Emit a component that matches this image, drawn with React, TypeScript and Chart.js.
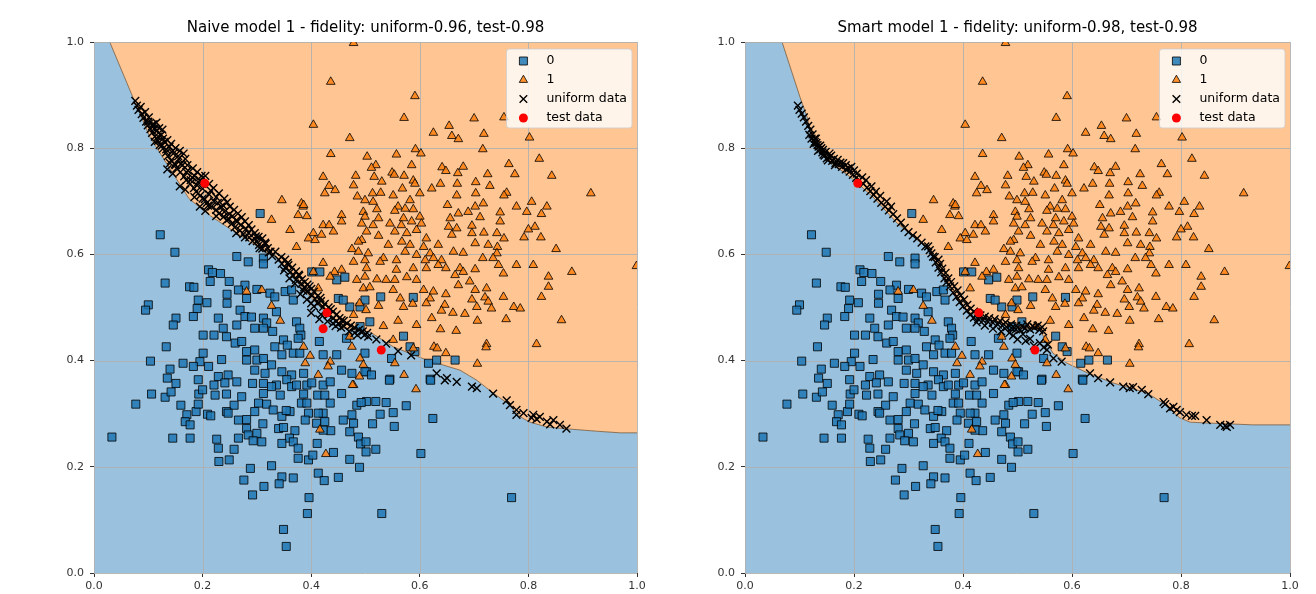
import React, { useEffect, useRef } from 'react';
import { Chart, registerables } from 'chart.js';

Chart.register(...registerables);

// ---------------- data ----------------
const tickValues = [0, 0.2, 0.4, 0.6, 0.8, 1.0];
const legendLabels = ['0', '1', 'uniform data', 'test data'];
const titleLeft = 'Naive model 1 - fidelity: uniform-0.96, test-0.98';
const titleRight = 'Smart model 1 - fidelity: uniform-0.98, test-0.98';

// class 0 samples (blue squares)
const class0Points: number[][] = [
  [0.306,0.677],[0.122,0.637],[0.149,0.604],[0.263,0.596],[0.284,0.586],[0.312,0.593],[0.312,0.582],[0.211,0.571],
  [0.218,0.566],[0.233,0.564],[0.131,0.546],[0.176,0.539],[0.184,0.538],[0.214,0.549],[0.249,0.549],[0.278,0.542],
  [0.300,0.534],[0.266,0.533],[0.245,0.525],[0.281,0.517],[0.192,0.514],[0.208,0.509],[0.245,0.508],[0.324,0.527],
  [0.333,0.520],[0.352,0.530],[0.100,0.505],[0.095,0.495],[0.190,0.498],[0.269,0.495],[0.336,0.492],[0.367,0.514],
  [0.364,0.533],[0.401,0.567],[0.416,0.567],[0.447,0.552],[0.462,0.557],[0.450,0.517],[0.471,0.501],[0.151,0.480],
  [0.146,0.467],[0.183,0.483],[0.229,0.480],[0.278,0.483],[0.290,0.482],[0.312,0.480],[0.263,0.467],[0.318,0.471],
  [0.238,0.461],[0.296,0.461],[0.201,0.448],[0.221,0.448],[0.244,0.445],[0.260,0.433],[0.272,0.436],[0.312,0.461],
  [0.329,0.455],[0.349,0.439],[0.356,0.429],[0.333,0.426],[0.373,0.473],[0.379,0.461],[0.381,0.448],[0.415,0.436],
  [0.133,0.426],[0.201,0.414],[0.195,0.398],[0.235,0.402],[0.281,0.417],[0.296,0.420],[0.281,0.401],[0.300,0.401],
  [0.312,0.404],[0.346,0.411],[0.367,0.414],[0.379,0.414],[0.422,0.411],[0.447,0.411],[0.104,0.399],[0.164,0.395],
  [0.183,0.389],[0.211,0.389],[0.140,0.384],[0.135,0.367],[0.151,0.357],[0.192,0.364],[0.229,0.370],[0.247,0.373],
  [0.263,0.360],[0.296,0.382],[0.315,0.376],[0.327,0.392],[0.346,0.379],[0.364,0.373],[0.386,0.376],[0.355,0.364],
  [0.456,0.382],[0.475,0.376],[0.502,0.379],[0.336,0.354],[0.312,0.357],[0.221,0.354],[0.376,0.442],[0.459,0.514],
  [0.490,0.501],[0.465,0.442],
  [0.528,0.520],[0.588,0.519],[0.499,0.514],[0.570,0.446],[0.582,0.426],[0.591,0.417],[0.616,0.395],[0.631,0.401],
  [0.665,0.401],[0.548,0.404],[0.545,0.365],[0.619,0.365],[0.499,0.379],[0.511,0.373],[0.508,0.473],[0.490,0.464],
  [0.499,0.414],
  [0.106,0.337],[0.077,0.318],[0.131,0.331],[0.142,0.341],[0.160,0.316],[0.171,0.298],[0.168,0.285],[0.177,0.279],
  [0.188,0.304],[0.192,0.318],[0.193,0.337],[0.200,0.345],[0.209,0.299],[0.215,0.296],[0.223,0.335],[0.244,0.337],
  [0.241,0.358],[0.272,0.332],[0.258,0.316],[0.244,0.304],[0.247,0.301],[0.266,0.288],[0.281,0.289],[0.281,0.272],
  [0.296,0.304],[0.303,0.320],[0.292,0.357],[0.312,0.338],[0.327,0.351],[0.318,0.318],[0.330,0.307],[0.343,0.335],
  [0.346,0.295],[0.340,0.272],[0.349,0.274],[0.311,0.281],[0.284,0.260],[0.300,0.263],[0.266,0.254],[0.293,0.249],
  [0.309,0.247],[0.226,0.252],[0.229,0.235],[0.258,0.233],[0.249,0.213],[0.230,0.210],[0.177,0.254],[0.145,0.254],
  [0.033,0.256],[0.361,0.304],[0.370,0.268],[0.354,0.306],[0.364,0.351],[0.373,0.354],[0.382,0.320],[0.392,0.354],
  [0.395,0.301],[0.389,0.288],[0.360,0.254],[0.367,0.247],[0.346,0.244],[0.376,0.235],[0.376,0.216],[0.395,0.213],
  [0.403,0.222],[0.411,0.244],[0.327,0.202],[0.288,0.197],[0.276,0.175],[0.346,0.181],[0.367,0.179],[0.341,0.168],
  [0.313,0.163],[0.292,0.147],[0.396,0.142],[0.393,0.112],[0.349,0.082],[0.354,0.050],[0.413,0.188],[0.424,0.174],
  [0.450,0.180],[0.471,0.214],[0.489,0.199],[0.441,0.227],[0.410,0.282],[0.425,0.285],[0.436,0.268],[0.422,0.269],
  [0.459,0.288],[0.478,0.282],[0.471,0.266],[0.487,0.256],[0.491,0.243],[0.501,0.228],[0.475,0.298],[0.484,0.316],
  [0.502,0.323],[0.435,0.320],[0.422,0.301],[0.413,0.301],[0.412,0.335],[0.425,0.335],[0.392,0.320],[0.386,0.337],
  [0.456,0.338],[0.422,0.354],[0.435,0.360],[0.401,0.358],
  [0.492,0.321],[0.519,0.323],[0.538,0.321],[0.575,0.315],[0.527,0.299],[0.551,0.302],[0.513,0.281],[0.553,0.276],
  [0.624,0.291],[0.501,0.247],[0.519,0.233],[0.602,0.225],[0.769,0.142],[0.530,0.112],[0.544,0.363],[0.620,0.363],
];

// class 1 samples (orange triangles)
const class1Points: number[][] = [
  [0.478,0.998],[0.436,0.925],[0.404,0.844],[0.471,0.819],[0.436,0.789],[0.422,0.746],[0.482,0.748],[0.433,0.729],
  [0.444,0.721],[0.478,0.730],[0.425,0.715],[0.485,0.709],[0.346,0.702],[0.382,0.696],[0.385,0.690],
  [0.591,0.898],[0.571,0.857],[0.654,0.842],[0.625,0.829],[0.700,0.856],[0.755,0.858],[0.718,0.827],[0.659,0.823],
  [0.671,0.817],[0.802,0.820],[0.716,0.798],[0.592,0.798],[0.602,0.790],[0.557,0.788],[0.503,0.784],[0.820,0.780],
  [0.764,0.770],[0.585,0.768],[0.519,0.768],[0.511,0.763],[0.641,0.764],[0.680,0.765],[0.648,0.757],[0.549,0.754],
  [0.571,0.748],[0.670,0.753],[0.725,0.751],[0.775,0.751],[0.843,0.748],[0.516,0.746],[0.553,0.750],[0.588,0.739],
  [0.530,0.737],[0.638,0.733],[0.703,0.736],[0.669,0.733],[0.729,0.729],[0.591,0.733],[0.622,0.724],[0.568,0.724],
  [0.915,0.715],[0.760,0.716],[0.755,0.711],[0.703,0.715],[0.600,0.715],[0.513,0.715],[0.528,0.716],[0.551,0.711],
  [0.668,0.711],[0.499,0.702],[0.560,0.690],
  [0.514,0.699],[0.582,0.702],[0.651,0.693],[0.702,0.690],[0.717,0.696],[0.778,0.690],[0.806,0.699],[0.834,0.690],
  [0.496,0.680],[0.521,0.685],[0.554,0.682],[0.573,0.686],[0.588,0.685],[0.671,0.677],[0.689,0.680],[0.748,0.679],
  [0.797,0.680],[0.824,0.676],[0.499,0.671],[0.524,0.668],[0.570,0.668],[0.600,0.671],[0.656,0.668],[0.711,0.670],
  [0.748,0.662],[0.493,0.658],[0.514,0.655],[0.545,0.658],[0.566,0.655],[0.585,0.662],[0.603,0.658],[0.653,0.652],
  [0.668,0.649],[0.696,0.654],[0.812,0.652],[0.800,0.647],[0.502,0.643],[0.524,0.635],[0.554,0.643],[0.576,0.640],
  [0.594,0.646],[0.659,0.637],[0.696,0.640],[0.718,0.641],[0.742,0.640],[0.755,0.630],[0.792,0.632],[0.823,0.632],
  [0.612,0.630],[0.493,0.627],[0.542,0.618],[0.567,0.624],[0.582,0.618],[0.634,0.618],[0.680,0.603],[0.702,0.621],
  [0.726,0.618],[0.743,0.614],[0.851,0.610],[0.505,0.602],[0.607,0.614],[0.573,0.605],[0.594,0.599],[0.619,0.602],
  [0.662,0.605],[0.742,0.602],[0.533,0.593],[0.557,0.589],[0.610,0.589],[0.625,0.593],[0.640,0.589],[0.716,0.593],
  [0.735,0.593],[0.502,0.574],[0.527,0.586],[0.557,0.571],[0.588,0.574],[0.612,0.574],[0.634,0.580],[0.648,0.574],
  [0.674,0.574],[0.702,0.572],[0.745,0.580],[0.778,0.580],[0.809,0.580],[0.880,0.567],[0.999,0.578],[0.499,0.558],
  [0.521,0.553],[0.538,0.552],[0.554,0.552],[0.576,0.557],[0.594,0.552],[0.665,0.561],[0.680,0.567],[0.692,0.549],
  [0.754,0.564],[0.837,0.558],[0.671,0.542],[0.837,0.539],[0.496,0.536],[0.508,0.538],[0.551,0.533],[0.607,0.533],
  [0.625,0.530],[0.648,0.525],[0.702,0.533],[0.723,0.536],[0.564,0.517],[0.619,0.517],[0.696,0.515],[0.720,0.519],
  [0.726,0.511],[0.754,0.520],[0.824,0.520],[0.524,0.503],[0.570,0.501],[0.587,0.507],[0.612,0.508],[0.646,0.505],
  [0.705,0.501],[0.732,0.498],[0.773,0.501],[0.785,0.498],[0.501,0.495],[0.640,0.494],[0.661,0.490],[0.683,0.488],
  [0.622,0.480],[0.560,0.475],[0.594,0.467],[0.706,0.475],[0.759,0.478],[0.861,0.476],[0.533,0.465],[0.638,0.459],
  [0.667,0.456],[0.551,0.439],[0.626,0.426],[0.632,0.423],[0.723,0.431],[0.722,0.425],[0.815,0.431],[0.648,0.414],
  [0.588,0.423],[0.706,0.394],[0.571,0.373],[0.554,0.395],
  [0.386,0.693],[0.376,0.674],[0.392,0.672],[0.327,0.665],[0.456,0.674],[0.456,0.662],[0.422,0.655],[0.433,0.655],
  [0.361,0.646],[0.404,0.640],[0.419,0.637],[0.441,0.643],[0.395,0.630],[0.407,0.627],[0.487,0.624],[0.373,0.614],
  [0.475,0.610],[0.487,0.605],[0.422,0.584],[0.478,0.586],[0.499,0.589],[0.404,0.567],[0.443,0.567],[0.456,0.571],
  [0.435,0.558],[0.484,0.552],[0.281,0.530],[0.309,0.533],[0.327,0.503],[0.343,0.475],[0.413,0.536],[0.489,0.508],
  [0.478,0.486],[0.386,0.426],[0.398,0.409],[0.389,0.395],[0.435,0.398],[0.431,0.389],[0.413,0.373],[0.475,0.426],
  [0.471,0.445],[0.490,0.404],[0.489,0.370],[0.478,0.354],[0.496,0.392],
  [0.476,0.354],[0.416,0.270],[0.427,0.224],[0.593,0.346],
];

// uniform samples near each model's boundary (black x)
const uniformLeft: number[][] = [
  [0.076,0.889],[0.079,0.880],[0.082,0.872],[0.086,0.878],[0.088,0.864],[0.091,0.857],[0.094,0.868],[0.096,0.850],
  [0.099,0.843],[0.101,0.858],[0.104,0.836],[0.107,0.829],[0.110,0.845],[0.112,0.822],[0.115,0.832],[0.118,0.814],
  [0.121,0.806],[0.124,0.825],[0.127,0.799],[0.130,0.812],[0.133,0.792],[0.136,0.785],[0.139,0.803],[0.142,0.777],
  [0.146,0.790],[0.149,0.770],[0.152,0.762],[0.156,0.780],[0.159,0.755],[0.163,0.768],[0.166,0.747],[0.170,0.740],
  [0.173,0.758],[0.177,0.733],[0.181,0.745],[0.184,0.725],[0.188,0.718],[0.192,0.736],[0.196,0.711],[0.200,0.724],
  [0.204,0.704],[0.208,0.697],[0.212,0.713],[0.216,0.690],[0.221,0.700],[0.225,0.684],[0.230,0.677],[0.234,0.690],
  [0.239,0.671],[0.244,0.664],[0.249,0.676],[0.254,0.658],[0.259,0.651],[0.264,0.662],[0.269,0.645],[0.275,0.638],
  [0.280,0.648],[0.286,0.632],[0.292,0.625],[0.298,0.634],[0.304,0.618],[0.310,0.611],[0.316,0.620],[0.322,0.604],
  [0.328,0.597],[0.334,0.605],[0.340,0.590],[0.346,0.582],[0.352,0.575],[0.357,0.584],[0.362,0.567],[0.367,0.560],
  [0.372,0.552],[0.377,0.562],[0.382,0.545],[0.387,0.538],[0.392,0.530],[0.397,0.540],[0.402,0.523],[0.407,0.516],
  [0.412,0.508],[0.417,0.518],[0.422,0.501],[0.427,0.494],[0.432,0.486],[0.436,0.497],[0.441,0.480],[0.446,0.474],
  [0.451,0.469],[0.456,0.476],[0.460,0.465],[0.430,0.474],[0.445,0.465],[0.418,0.487],[0.405,0.502],
  [0.480,0.452],[0.498,0.448],[0.520,0.440],[0.538,0.432],[0.560,0.418],[0.584,0.410],[0.631,0.376],[0.650,0.367],
  [0.668,0.360],[0.646,0.363],[0.696,0.351],[0.705,0.348],[0.735,0.338],[0.766,0.316],[0.778,0.307],[0.791,0.301],
  [0.809,0.298],[0.821,0.294],[0.834,0.285],[0.846,0.288],[0.858,0.279],[0.870,0.272],[0.806,0.292],[0.778,0.298],
  [0.760,0.325],[0.815,0.290],[0.840,0.280],
  [0.100,0.850],[0.108,0.845],[0.115,0.848],[0.120,0.838],[0.126,0.835],[0.112,0.838],
  [0.118,0.822],[0.127,0.818],[0.135,0.815],[0.142,0.808],[0.150,0.800],[0.158,0.795],[0.165,0.790],[0.125,0.805],
  [0.133,0.798],[0.145,0.795],[0.155,0.785],[0.168,0.780],[0.112,0.812],
  [0.140,0.772],[0.150,0.768],[0.160,0.770],[0.172,0.768],[0.182,0.762],[0.190,0.755],[0.198,0.748],[0.135,0.760],
  [0.145,0.752],[0.170,0.755],[0.185,0.748],[0.178,0.740],[0.195,0.740],[0.205,0.748],
  [0.158,0.728],[0.168,0.722],[0.190,0.730],[0.212,0.733],[0.220,0.725],[0.215,0.720],[0.230,0.715],[0.225,0.708],
  [0.200,0.705],[0.185,0.708],[0.240,0.705],[0.245,0.698],[0.238,0.692],[0.228,0.697],[0.210,0.692],
  [0.250,0.690],[0.258,0.684],[0.265,0.677],[0.272,0.670],[0.255,0.672],[0.248,0.667],[0.240,0.680],[0.262,0.664],
  [0.278,0.662],[0.285,0.655],[0.270,0.655],[0.195,0.690],[0.205,0.682],[0.225,0.672],
  [0.290,0.647],[0.296,0.640],[0.303,0.633],[0.285,0.640],[0.300,0.625],[0.310,0.630],[0.315,0.622],[0.305,0.612],
  [0.320,0.612],[0.325,0.605],[0.278,0.632],[0.262,0.640],
  [0.345,0.595],[0.352,0.590],[0.358,0.580],[0.365,0.575],[0.372,0.568],[0.378,0.560],[0.383,0.553],[0.350,0.570],
  [0.360,0.555],[0.370,0.545],
  [0.388,0.548],[0.393,0.543],[0.400,0.535],[0.405,0.530],[0.412,0.522],[0.418,0.512],[0.380,0.525],[0.392,0.515],
  [0.400,0.508],[0.385,0.532],
  [0.425,0.507],[0.432,0.500],[0.440,0.492],[0.447,0.487],[0.452,0.480],[0.460,0.475],[0.466,0.470],[0.473,0.466],
  [0.480,0.462],[0.488,0.458],[0.495,0.455],[0.503,0.452],[0.440,0.470],[0.455,0.462],[0.470,0.455],[0.485,0.448],
  [0.505,0.445],[0.415,0.478],[0.400,0.490],
];

const uniformRight: number[][] = [
  [0.097,0.880],[0.100,0.872],[0.104,0.865],[0.108,0.858],[0.112,0.850],[0.116,0.842],[0.120,0.835],[0.124,0.826],
  [0.128,0.818],[0.131,0.810],[0.135,0.803],[0.138,0.798],[0.142,0.792],[0.146,0.786],[0.150,0.781],[0.155,0.783],
  [0.160,0.776],[0.166,0.772],[0.172,0.770],[0.178,0.765],[0.185,0.760],[0.192,0.756],[0.198,0.750],[0.204,0.744],
  [0.210,0.740],[0.217,0.733],[0.224,0.726],[0.230,0.719],[0.236,0.712],[0.243,0.705],[0.250,0.697],[0.257,0.690],
  [0.264,0.683],[0.272,0.676],[0.279,0.668],[0.286,0.660],[0.293,0.650],[0.300,0.642],[0.308,0.636],[0.316,0.630],
  [0.324,0.622],[0.331,0.615],[0.339,0.608],[0.345,0.596],[0.350,0.585],[0.355,0.575],[0.360,0.566],[0.366,0.555],
  [0.370,0.548],[0.376,0.540],[0.382,0.528],[0.388,0.520],[0.394,0.510],[0.400,0.502],[0.407,0.494],[0.413,0.486],
  [0.420,0.481],[0.428,0.478],[0.437,0.476],[0.446,0.473],[0.455,0.471],[0.464,0.468],[0.472,0.466],[0.480,0.463],
  [0.489,0.461],[0.497,0.459],[0.505,0.458],[0.514,0.461],[0.523,0.459],[0.531,0.462],[0.540,0.458],[0.547,0.455],
  [0.492,0.447],[0.510,0.450],[0.523,0.441],[0.541,0.433],[0.554,0.420],[0.566,0.404],[0.581,0.398],[0.633,0.376],
  [0.648,0.367],[0.670,0.359],[0.694,0.351],[0.706,0.348],[0.712,0.350],[0.728,0.345],[0.740,0.337],[0.771,0.318],
  [0.780,0.310],[0.792,0.307],[0.798,0.303],[0.810,0.298],[0.820,0.296],[0.826,0.296],[0.847,0.288],[0.872,0.279],
  [0.881,0.277],[0.890,0.279],[0.884,0.275],[0.768,0.322],[0.786,0.313],
  [0.134,0.795],[0.126,0.808],[0.144,0.788],[0.152,0.777],[0.165,0.768],[0.130,0.818],[0.140,0.800],[0.155,0.790],
  [0.170,0.778],[0.185,0.768],[0.200,0.758],
  [0.118,0.825],[0.122,0.818],[0.128,0.812],[0.133,0.806],[0.138,0.805],[0.143,0.797],[0.148,0.793],[0.158,0.786],
  [0.163,0.780],[0.175,0.773],[0.180,0.772],[0.190,0.762],[0.195,0.765],[0.205,0.752],[0.215,0.745],[0.222,0.740],
  [0.232,0.728],[0.240,0.718],[0.248,0.710],[0.260,0.700],[0.268,0.690],
  [0.336,0.615],[0.342,0.602],[0.348,0.595],[0.355,0.590],[0.358,0.582],[0.362,0.573],[0.368,0.565],[0.373,0.555],
  [0.378,0.548],[0.384,0.540],[0.390,0.532],[0.396,0.523],[0.402,0.515],[0.408,0.505],[0.414,0.498],[0.420,0.492],
  [0.426,0.488],[0.432,0.485],[0.440,0.483],[0.448,0.480],[0.458,0.478],[0.468,0.475],[0.478,0.472],[0.488,0.468],
  [0.498,0.466],[0.508,0.465],[0.518,0.468],[0.528,0.465],[0.537,0.466],[0.545,0.463],[0.500,0.440],[0.515,0.437],
  [0.530,0.428],[0.548,0.425],[0.556,0.430],[0.470,0.455],[0.485,0.452],[0.455,0.460],[0.440,0.466],[0.425,0.472],
];

// test samples (red dots)
const testLeft: number[][] = [[0.204,0.734],[0.429,0.490],[0.422,0.460],[0.529,0.420]];
const testRight: number[][] = [[0.207,0.734],[0.429,0.490],[0.532,0.420]];

// decision boundary of each model (orange above, blue below)
const boundaryLeft: number[][] = [
  [0,1.0],[0.029,1.0],[0.072,0.895],[0.103,0.821],[0.145,0.753],[0.175,0.705],[0.215,0.672],[0.263,0.640],
  [0.319,0.603],[0.337,0.595],[0.366,0.557],[0.392,0.527],[0.422,0.495],[0.448,0.471],[0.459,0.461],[0.508,0.454],
  [0.551,0.426],[0.613,0.401],[0.674,0.382],[0.705,0.363],[0.735,0.339],[0.761,0.320],[0.785,0.294],[0.803,0.284],
  [0.834,0.275],[0.877,0.271],[0.926,0.267],[0.969,0.264],[1.0,0.264],
];
const boundaryRight: number[][] = [
  [0,1.0],[0.068,1.0],[0.101,0.896],[0.114,0.859],[0.123,0.815],[0.150,0.778],[0.193,0.746],[0.235,0.708],
  [0.279,0.659],[0.316,0.627],[0.339,0.608],[0.352,0.580],[0.371,0.546],[0.389,0.514],[0.413,0.490],[0.450,0.476],
  [0.492,0.463],[0.541,0.458],[0.565,0.414],[0.591,0.395],[0.628,0.377],[0.675,0.358],[0.738,0.339],[0.767,0.320],
  [0.798,0.292],[0.817,0.284],[0.859,0.282],[0.932,0.279],[1.0,0.279],
];

// ---------------- styles ----------------
const FONT = 'DejaVu Sans';
const BLUE_BG = 'rgb(154,193,221)';
const ORANGE_BG = 'rgb(255,197,147)';
const SQ_FILL = 'rgba(31,119,180,0.85)';
const TRI_FILL = 'rgba(255,127,14,0.85)';
const EDGE = 'rgba(0,0,0,0.8)';

const toXY = (arr: number[][]) => arr.map(([x, y]) => ({ x, y }));

function drawMarker(ctx: CanvasRenderingContext2D, kind: number, x: number, y: number) {
  ctx.save();
  ctx.lineWidth = 1;
  if (kind === 0) {
    ctx.fillStyle = SQ_FILL;
    ctx.strokeStyle = EDGE;
    ctx.beginPath();
    ctx.rect(x - 4, y - 4, 8, 8);
    ctx.fill();
    ctx.stroke();
  } else if (kind === 1) {
    const r = 4.8;
    ctx.fillStyle = TRI_FILL;
    ctx.strokeStyle = EDGE;
    ctx.beginPath();
    ctx.moveTo(x, y - r);
    ctx.lineTo(x + r * 0.866, y + r * 0.5);
    ctx.lineTo(x - r * 0.866, y + r * 0.5);
    ctx.closePath();
    ctx.fill();
    ctx.stroke();
  } else if (kind === 2) {
    ctx.strokeStyle = '#000';
    ctx.lineWidth = 1.4;
    ctx.beginPath();
    ctx.moveTo(x - 3.8, y - 3.8);
    ctx.lineTo(x + 3.8, y + 3.8);
    ctx.moveTo(x + 3.8, y - 3.8);
    ctx.lineTo(x - 3.8, y + 3.8);
    ctx.stroke();
  } else {
    ctx.fillStyle = 'red';
    ctx.beginPath();
    ctx.arc(x, y, 4.5, 0, Math.PI * 2);
    ctx.fill();
  }
  ctx.restore();
}

function makeOverlay(title: string) {
  return {
    id: 'overlay',
    afterDatasetDraw(chart: any, args: any) {
      if (args.index !== 1) return;
      const { ctx, chartArea: a, scales } = chart;
      ctx.save();
      ctx.strokeStyle = 'rgba(176,176,176,0.9)';
      ctx.lineWidth = 1;
      ctx.beginPath();
      for (const v of tickValues) {
        const px = Math.round(scales.x.getPixelForValue(v)) + 0.5;
        const py = Math.round(scales.y.getPixelForValue(v)) + 0.5;
        ctx.moveTo(px, a.top);
        ctx.lineTo(px, a.bottom);
        ctx.moveTo(a.left, py);
        ctx.lineTo(a.right, py);
      }
      ctx.stroke();
      ctx.restore();
    },
    afterDraw(chart: any) {
      const { ctx, chartArea: a } = chart;
      ctx.save();
      // title
      ctx.font = `15px "${FONT}"`;
      ctx.fillStyle = '#000';
      ctx.textAlign = 'center';
      ctx.textBaseline = 'middle';
      ctx.fillText(title, (a.left + a.right) / 2, 28);
      // legend
      ctx.font = `12.5px "${FONT}"`;
      let tw = 0;
      for (const l of legendLabels) tw = Math.max(tw, ctx.measureText(l).width);
      const w = tw + 45;
      const h = 79;
      const bx = a.right - 5 - w;
      const by = a.top + 7;
      ctx.beginPath();
      const r = 3;
      ctx.moveTo(bx + r, by);
      ctx.lineTo(bx + w - r, by);
      ctx.quadraticCurveTo(bx + w, by, bx + w, by + r);
      ctx.lineTo(bx + w, by + h - r);
      ctx.quadraticCurveTo(bx + w, by + h, bx + w - r, by + h);
      ctx.lineTo(bx + r, by + h);
      ctx.quadraticCurveTo(bx, by + h, bx, by + h - r);
      ctx.lineTo(bx, by + r);
      ctx.quadraticCurveTo(bx, by, bx + r, by);
      ctx.closePath();
      ctx.fillStyle = 'rgba(255,255,255,0.8)';
      ctx.fill();
      ctx.strokeStyle = 'rgba(204,204,204,0.8)';
      ctx.lineWidth = 1;
      ctx.stroke();
      ctx.textAlign = 'left';
      legendLabels.forEach((l, i) => {
        const yy = by + 12 + i * 19;
        drawMarker(ctx, i, bx + 17, yy);
        ctx.fillStyle = '#000';
        ctx.fillText(l, bx + 40, yy);
      });
      ctx.restore();
    },
  };
}

function buildConfig(panel: 'left' | 'right'): any {
  const isLeft = panel === 'left';
  const boundary = toXY(isLeft ? boundaryLeft : boundaryRight);
  const tickFont = { family: FONT, size: 11 };
  const axisCommon = {
    type: 'linear',
    min: 0,
    max: 1,
    afterBuildTicks: (s: any) => {
      s.ticks = tickValues.map((v) => ({ value: v }));
    },
    border: { display: false },
    grid: { drawOnChartArea: false, drawTicks: true, tickLength: 4, tickColor: '#333', lineWidth: 1 },
  };
  return {
    type: 'scatter',
    data: {
      datasets: [
        {
          type: 'line', label: 'region-blue', data: boundary, fill: 'start', backgroundColor: BLUE_BG,
          borderWidth: 0, pointRadius: 0, tension: 0, order: 6,
        },
        {
          type: 'line', label: 'region-orange', data: boundary, fill: 'end', backgroundColor: ORANGE_BG,
          borderColor: 'rgba(110,80,50,0.75)', borderWidth: 1, pointRadius: 0, tension: 0, order: 5,
        },
        {
          label: legendLabels[0], data: toXY(class0Points), pointStyle: 'rect', pointRadius: 5.7,
          backgroundColor: SQ_FILL, borderColor: EDGE, borderWidth: 1, order: 4,
        },
        {
          label: legendLabels[1], data: toXY(class1Points), pointStyle: 'triangle', pointRadius: 5,
          backgroundColor: TRI_FILL, borderColor: EDGE, borderWidth: 1, order: 3,
        },
        {
          label: legendLabels[2], data: toXY(isLeft ? uniformLeft : uniformRight), pointStyle: 'crossRot',
          pointRadius: 5.5, borderColor: '#000', backgroundColor: '#000', borderWidth: 1.4, order: 2,
        },
        {
          label: legendLabels[3], data: toXY(isLeft ? testLeft : testRight), pointStyle: 'circle',
          pointRadius: 4.5, backgroundColor: 'red', borderWidth: 0, order: 1,
        },
      ],
    },
    options: {
      responsive: false,
      animation: false,
      devicePixelRatio: 1,
      events: [],
      layout: { padding: { top: 42, right: isLeft ? 21 : 26, left: 0, bottom: 0 } },
      plugins: { legend: { display: false }, tooltip: { enabled: false }, title: { display: false } },
      scales: {
        x: {
          ...axisCommon,
          position: 'bottom',
          ticks: { callback: (v: number) => v.toFixed(1), font: tickFont, color: '#333', padding: 3, maxRotation: 0, autoSkip: false },
          afterFit: (s: any) => { s.height = 21; },
        },
        y: {
          ...axisCommon,
          position: 'left',
          ticks: { callback: (v: number) => v.toFixed(1), font: tickFont, color: '#333', padding: 6, autoSkip: false },
          afterFit: (s: any) => { s.width = isLeft ? 94 : 87; },
        },
      },
    },
    plugins: [makeOverlay(isLeft ? titleLeft : titleRight)],
  };
}

function Panel({ panel, left }: { panel: 'left' | 'right'; left: number }) {
  const ref = useRef<HTMLCanvasElement>(null);
  useEffect(() => {
    if (!ref.current) return;
    const chart = new Chart(ref.current, buildConfig(panel));
    return () => chart.destroy();
  }, [panel]);
  return (
    <canvas
      ref={ref}
      width={658}
      height={594}
      style={{ position: 'absolute', left, top: 0, width: 658, height: 594 }}
    />
  );
}

export default function App() {
  return (
    <div style={{ position: 'absolute', left: 0, top: 0, width: 1316, height: 594, background: '#fff' }}>
      <Panel panel="left" left={0} />
      <Panel panel="right" left={658} />
    </div>
  );
}
